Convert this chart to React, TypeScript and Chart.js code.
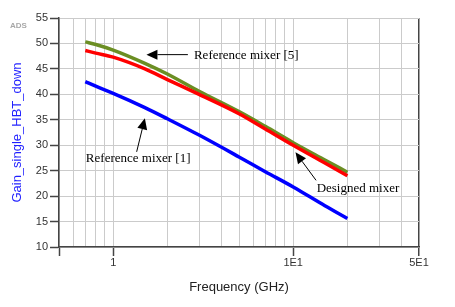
import React, { useEffect, useRef } from "react";
import { Chart, registerables } from "chart.js";

Chart.register(...registerables);

// ---- Data ----
const frequencies = [0.7, 0.8, 1, 1.5, 2, 3, 5, 7, 10, 15, 20];
const designedGain = [48.6, 48.1, 47.3, 45.0, 42.9, 40.0, 36.2, 33.2, 30.0, 26.5, 24.0];
const refMixer5Gain = [50.3, 49.8, 48.7, 46.1, 44.0, 40.6, 36.6, 33.7, 30.5, 27.1, 24.7];
const refMixer1Gain = [42.5, 41.6, 40.2, 37.4, 35.2, 32.0, 27.7, 24.8, 21.8, 18.1, 15.6];

const xGridValues = [0.5, 0.6, 0.7, 0.8, 0.9, 1, 2, 3, 4, 5, 6, 7, 8, 9, 10, 20, 30, 40, 50];
const xMajorTicks = [1, 10, 50];
const xMajorLabels = ["1", "1E1", "5E1"];
const yTicks = [10, 15, 20, 25, 30, 35, 40, 45, 50, 55];

// annotations (data coordinates: frequency GHz, gain)
const noteTexts = ["Reference mixer [5]", "Reference mixer [1]", "Designed mixer"];
const noteTextFreq = [2.81, 0.705, 13.5];
const noteTextGain = [47.7, 27.3, 21.4];
const arrowTailFreq = [2.6, 1.35, 13.4];
const arrowTailGain = [47.8, 28.7, 23.1];
const arrowTipFreq = [1.53, 1.5, 10.3];
const arrowTipGain = [47.8, 35.3, 28.6];

const SANS = '"Liberation Sans", Arial, sans-serif';
const SERIF = '"Liberation Serif", "Times New Roman", serif';

const annotationPlugin = {
  id: "mixerNotes",
  afterDatasetsDraw(chart: any) {
    const { ctx, scales } = chart;
    const x = scales.x;
    const y = scales.y;
    ctx.save();
    ctx.strokeStyle = "#000";
    ctx.fillStyle = "#000";
    ctx.lineWidth = 1;
    for (let i = 0; i < noteTexts.length; i++) {
      const tx = x.getPixelForValue(arrowTailFreq[i]);
      const ty = y.getPixelForValue(arrowTailGain[i]);
      const hx = x.getPixelForValue(arrowTipFreq[i]);
      const hy = y.getPixelForValue(arrowTipGain[i]);
      const ang = Math.atan2(hy - ty, hx - tx);
      const headLen = 11;
      const halfW = 5;
      const bx = hx - headLen * Math.cos(ang);
      const by = hy - headLen * Math.sin(ang);
      ctx.beginPath();
      ctx.moveTo(tx, ty);
      ctx.lineTo(bx, by);
      ctx.stroke();
      ctx.beginPath();
      ctx.moveTo(hx, hy);
      ctx.lineTo(bx - halfW * Math.sin(ang), by + halfW * Math.cos(ang));
      ctx.lineTo(bx + halfW * Math.sin(ang), by - halfW * Math.cos(ang));
      ctx.closePath();
      ctx.fill();

      ctx.font = `13px ${SERIF}`;
      ctx.textAlign = "left";
      ctx.textBaseline = "middle";
      ctx.fillText(
        noteTexts[i],
        x.getPixelForValue(noteTextFreq[i]),
        y.getPixelForValue(noteTextGain[i])
      );
    }
    // ADS tag
    ctx.font = `bold 8px ${SANS}`;
    ctx.fillStyle = "#a8a8a8";
    ctx.textAlign = "left";
    ctx.textBaseline = "middle";
    ctx.fillText("ADS", chart.chartArea.left - 49, chart.chartArea.top + 8);
    ctx.restore();
  },
};

export default function App() {
  const ref = useRef<HTMLCanvasElement>(null);

  useEffect(() => {
    const toPts = (arr: number[]) => frequencies.map((f, i) => ({ x: f, y: arr[i] }));
    const chart = new Chart(ref.current as HTMLCanvasElement, {
      type: "line",
      data: {
        datasets: [
          {
            label: "Designed mixer",
            data: toPts(designedGain),
            borderColor: "#ff0000",
            borderWidth: 3.5,
            pointRadius: 0,
            cubicInterpolationMode: "monotone",
          },
          {
            label: "Reference mixer [5]",
            data: toPts(refMixer5Gain),
            borderColor: "#6b8e23",
            borderWidth: 3.5,
            pointRadius: 0,
            cubicInterpolationMode: "monotone",
          },
          {
            label: "Reference mixer [1]",
            data: toPts(refMixer1Gain),
            borderColor: "#0000ff",
            borderWidth: 3.5,
            pointRadius: 0,
            cubicInterpolationMode: "monotone",
          },
        ],
      },
      options: {
        responsive: false,
        animation: false,
        devicePixelRatio: 1,
        layout: { padding: { top: 18, right: 36, left: 0, bottom: 0 } },
        plugins: { legend: { display: false }, tooltip: { enabled: false } },
        scales: {
          x: {
            type: "logarithmic",
            min: 0.5,
            max: 50,
            afterBuildTicks: (s: any) => {
              s.ticks = xGridValues.map((v) => ({ value: v }));
            },
            afterFit: (s: any) => {
              s.height = 60;
            },
            ticks: {
              autoSkip: false,
              maxRotation: 0,
              minRotation: 0,
              padding: 0,
              color: "#333",
              font: { family: SANS, size: 11 },
              callback: (v: any) => {
                const i = xMajorTicks.indexOf(Number(v));
                return i >= 0 ? xMajorLabels[i] : "";
              },
            },
            grid: {
              color: (c: any) => (c.tick && c.tick.value === 50 ? "#444" : "#cbcbcb"),
              lineWidth: (c: any) => (c.tick && c.tick.value === 50 ? 1.5 : 1),
              tickLength: 9,
              tickWidth: 1.5,
              tickColor: (c: any) =>
                c.tick && (xMajorTicks.indexOf(c.tick.value) >= 0 || c.tick.value === 0.5)
                  ? "#444"
                  : "rgba(0,0,0,0)",
            },
            border: { color: "#444", width: 1.5 },
            title: {
              display: true,
              text: "Frequency (GHz)",
              color: "#222",
              font: { family: SANS, size: 13 },
              padding: { top: 0, bottom: 12 },
            },
          },
          y: {
            type: "linear",
            min: 10,
            max: 55,
            afterBuildTicks: (s: any) => {
              s.ticks = yTicks.map((v) => ({ value: v }));
            },
            afterFit: (s: any) => {
              s.width = 59;
            },
            ticks: {
              padding: 2,
              color: "#333",
              font: { family: SANS, size: 11 },
            },
            grid: {
              color: "#cbcbcb",
              lineWidth: 1,
              tickLength: 9,
              tickWidth: 1.5,
              tickColor: "#444",
            },
            border: { color: "#444", width: 1.5 },
            title: {
              display: true,
              text: "Gain_single_HBT_down",
              color: "#1f1fff",
              font: { family: SANS, size: 13 },
              padding: { top: 10, bottom: 0 },
            },
          },
        },
      },
      plugins: [annotationPlugin],
    } as any);
    return () => chart.destroy();
  }, []);

  return (
    <div style={{ position: "absolute", left: 0, top: 0, width: 455, height: 307 }}>
      <canvas ref={ref} width={455} height={307} style={{ display: "block" }} />
    </div>
  );
}
